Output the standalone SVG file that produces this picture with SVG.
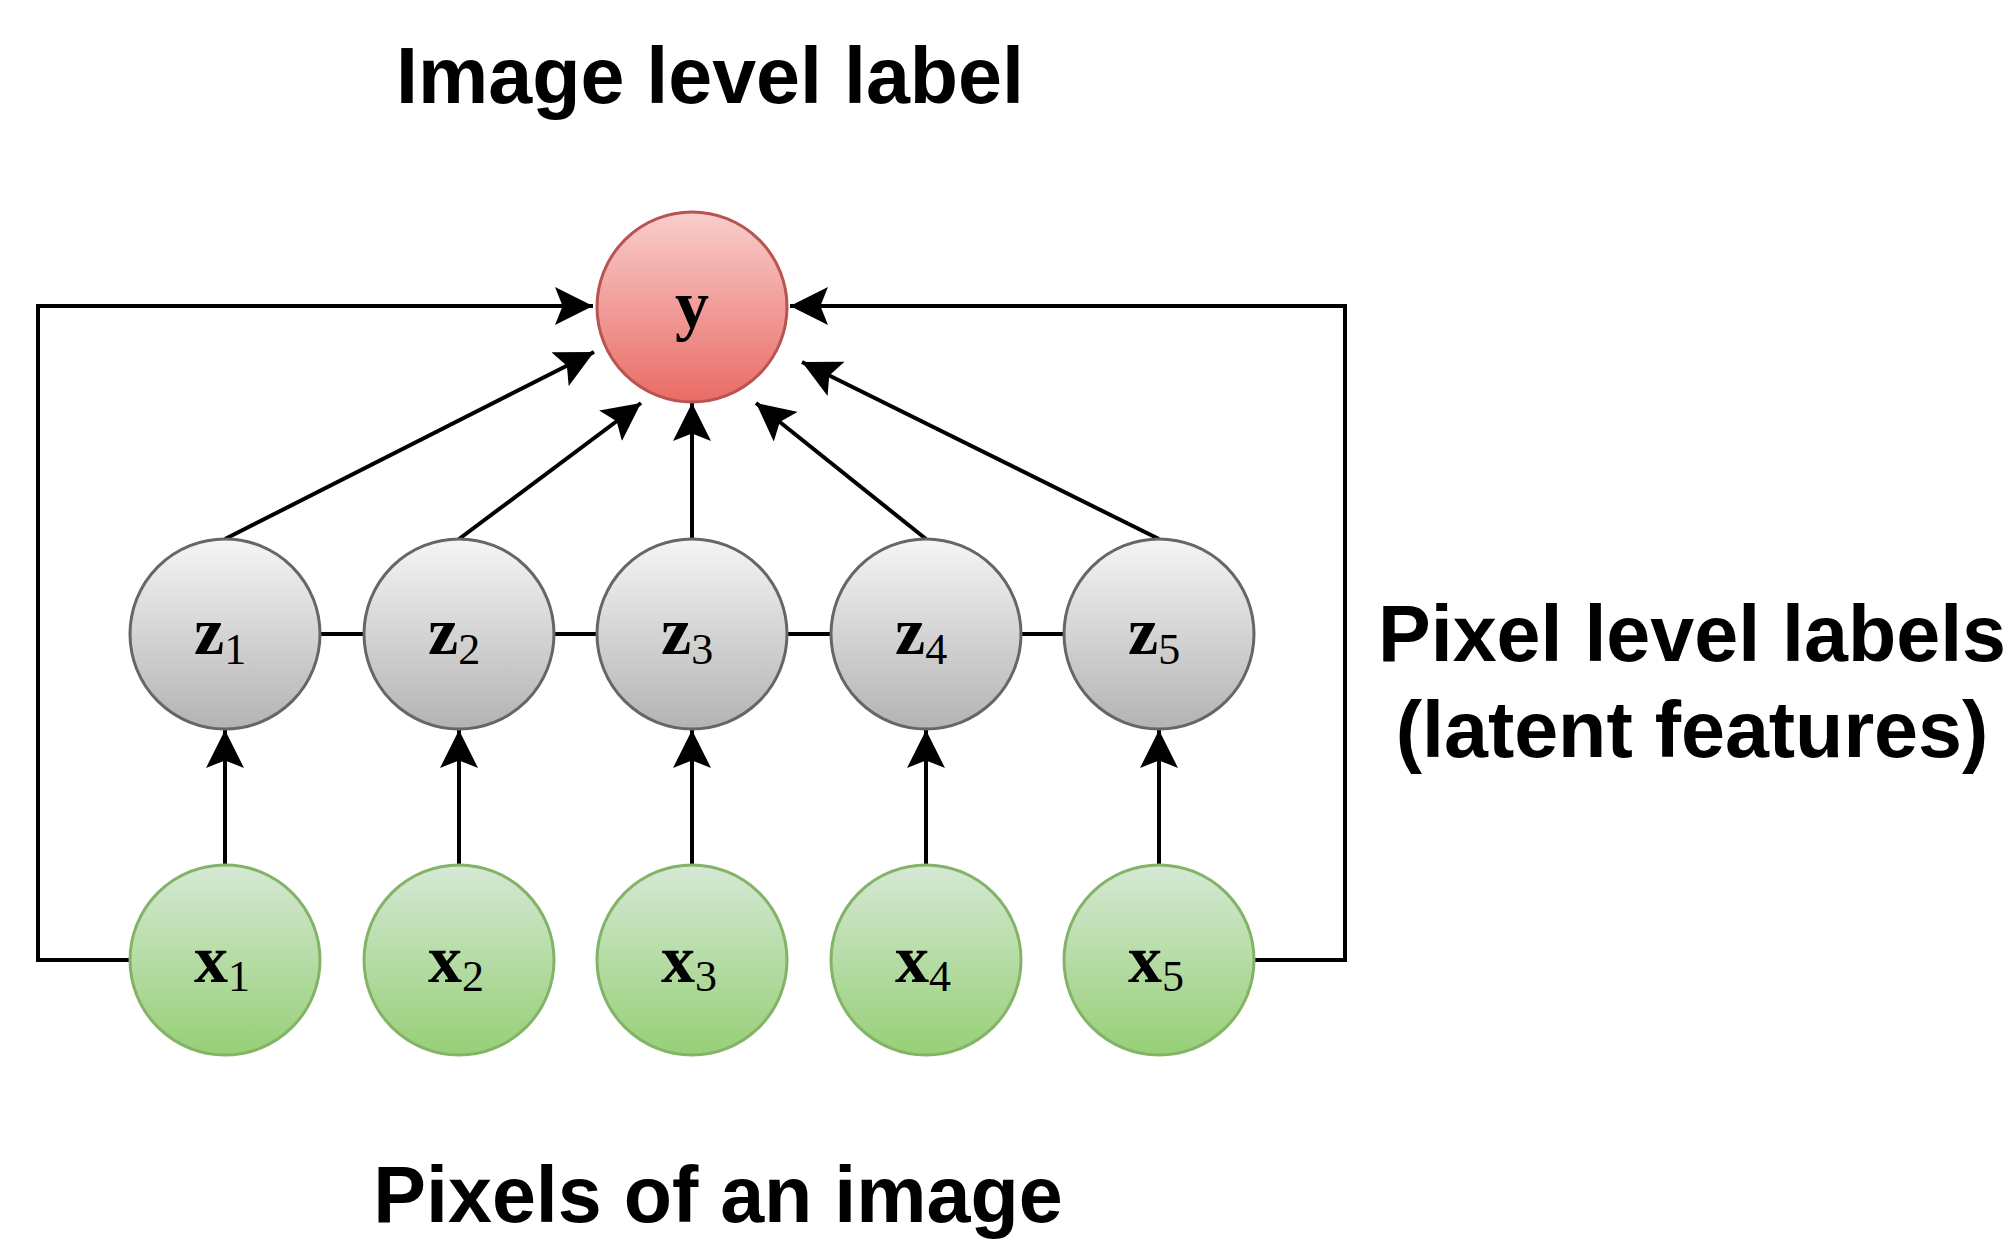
<svg xmlns="http://www.w3.org/2000/svg" width="2011" height="1242" viewBox="0 0 2011 1242">
<style>
.lbl{font-family:"Liberation Sans",Arial,sans-serif;font-weight:bold;font-size:79px;fill:#000}
.nl{font-family:"Liberation Serif","Times New Roman",serif;font-weight:bold;font-size:68px;fill:#000}
.sub{font-weight:normal;font-size:44px}
.edge{fill:none;stroke:#000;stroke-width:4}
.red{fill:url(#gRed);stroke:#b85450;stroke-width:3}
.gray{fill:url(#gGray);stroke:#666;stroke-width:3}
.green{fill:url(#gGreen);stroke:#82b366;stroke-width:3}
</style>
<defs>
<linearGradient id="gRed" x1="0" y1="0" x2="0" y2="1"><stop offset="0" stop-color="#f8cecc"/><stop offset="1" stop-color="#ea6b66"/></linearGradient>
<linearGradient id="gGray" x1="0" y1="0" x2="0" y2="1"><stop offset="0" stop-color="#f5f5f5"/><stop offset="1" stop-color="#b3b3b3"/></linearGradient>
<linearGradient id="gGreen" x1="0" y1="0" x2="0" y2="1"><stop offset="0" stop-color="#d5e8d4"/><stop offset="1" stop-color="#97d077"/></linearGradient>
<marker id="arr" viewBox="0 0 10 10" refX="10" refY="5" markerWidth="9.5" markerHeight="9.5" markerUnits="strokeWidth" orient="auto">
<path d="M0,0 L10,5 L0,10 L2,5 Z" fill="#000"/>
</marker>
</defs>
<rect width="2011" height="1242" fill="#fff"/>

<g id="connectors">
<path class="edge" d="M129,960 H38 V306 H593" marker-end="url(#arr)"/>
<path class="edge" d="M1254,960 H1345 V306 H790" marker-end="url(#arr)"/>
<line class="edge" x1="225" y1="539" x2="594" y2="352" marker-end="url(#arr)"/>
<line class="edge" x1="459" y1="539" x2="641" y2="403" marker-end="url(#arr)"/>
<line class="edge" x1="692" y1="539" x2="692" y2="403" marker-end="url(#arr)"/>
<line class="edge" x1="926" y1="539" x2="756" y2="403" marker-end="url(#arr)"/>
<line class="edge" x1="1159" y1="539" x2="802" y2="362" marker-end="url(#arr)"/>
<line class="edge" x1="320" y1="634" x2="364" y2="634"/>
<line class="edge" x1="554" y1="634" x2="597" y2="634"/>
<line class="edge" x1="787" y1="634" x2="831" y2="634"/>
<line class="edge" x1="1021" y1="634" x2="1064" y2="634"/>
<line class="edge" x1="225" y1="865" x2="225" y2="730" marker-end="url(#arr)"/>
<line class="edge" x1="459" y1="865" x2="459" y2="730" marker-end="url(#arr)"/>
<line class="edge" x1="692" y1="865" x2="692" y2="730" marker-end="url(#arr)"/>
<line class="edge" x1="926" y1="865" x2="926" y2="730" marker-end="url(#arr)"/>
<line class="edge" x1="1159" y1="865" x2="1159" y2="730" marker-end="url(#arr)"/>
</g>

<g id="node-y"><circle class="red" cx="692" cy="307" r="95"/><text class="nl" x="692" y="328" text-anchor="middle">y</text></g>

<g id="node-z1"><circle class="gray" cx="225" cy="634" r="95"/><text class="nl" x="194" y="654">z<tspan class="sub" dy="10">1</tspan></text></g>
<g id="node-z2"><circle class="gray" cx="459" cy="634" r="95"/><text class="nl" x="428" y="654">z<tspan class="sub" dy="10">2</tspan></text></g>
<g id="node-z3"><circle class="gray" cx="692" cy="634" r="95"/><text class="nl" x="661" y="654">z<tspan class="sub" dy="10">3</tspan></text></g>
<g id="node-z4"><circle class="gray" cx="926" cy="634" r="95"/><text class="nl" x="895" y="654">z<tspan class="sub" dy="10">4</tspan></text></g>
<g id="node-z5"><circle class="gray" cx="1159" cy="634" r="95"/><text class="nl" x="1128" y="654">z<tspan class="sub" dy="10">5</tspan></text></g>

<g id="node-x1"><circle class="green" cx="225" cy="960" r="95"/><text class="nl" x="194" y="982">x<tspan class="sub" dy="9">1</tspan></text></g>
<g id="node-x2"><circle class="green" cx="459" cy="960" r="95"/><text class="nl" x="428" y="982">x<tspan class="sub" dy="9">2</tspan></text></g>
<g id="node-x3"><circle class="green" cx="692" cy="960" r="95"/><text class="nl" x="661" y="982">x<tspan class="sub" dy="9">3</tspan></text></g>
<g id="node-x4"><circle class="green" cx="926" cy="960" r="95"/><text class="nl" x="895" y="982">x<tspan class="sub" dy="9">4</tspan></text></g>
<g id="node-x5"><circle class="green" cx="1159" cy="960" r="95"/><text class="nl" x="1128" y="982">x<tspan class="sub" dy="9">5</tspan></text></g>

<g id="labels">
<text class="lbl" x="710" y="103" text-anchor="middle">Image level label</text>
<text class="lbl" x="1692" y="661" text-anchor="middle">Pixel level labels</text>
<text class="lbl" x="1692" y="757" text-anchor="middle">(latent features)</text>
<text class="lbl" x="718" y="1222" text-anchor="middle">Pixels of an image</text>
</g>
</svg>
